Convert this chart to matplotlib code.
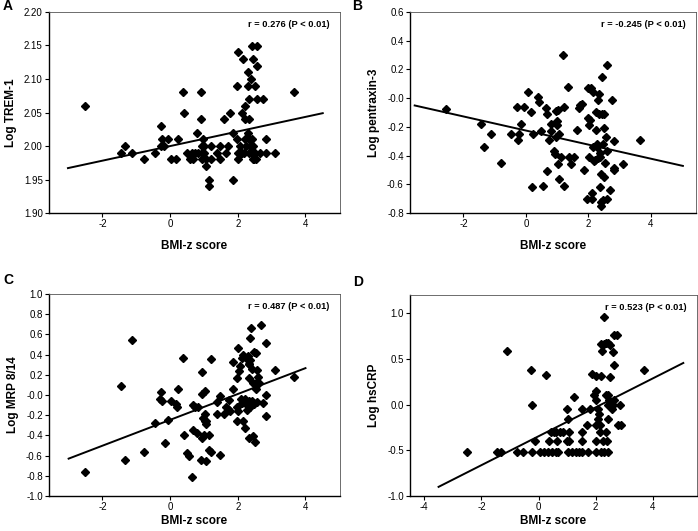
import numpy as np
import matplotlib
matplotlib.use("Agg")
import matplotlib.pyplot as plt

plt.rcParams['font.family'] = ['Liberation Sans Narrow', 'Liberation Sans', 'DejaVu Sans']

# Panel A: BMI-z vs Log TREM-1
a_x = [-2.53, -1.44, -1.32, -1.13, -0.78, -0.46, -0.26, -0.28, -0.17, -0.23, -0.07,
       0.04, 0.18, 0.23, 0.37, 0.40, 0.50, 0.59, 0.69, 0.64, 0.74, 0.82, 0.78, 0.91,
       0.90, 0.97, 0.95, 1.00, 0.94, 1.00, 0.93, 1.06, 1.05, 1.14, 1.16, 1.20, 1.22,
       1.39, 1.46, 1.48, 1.58, 1.66, 1.72, 1.77, 1.85, 1.87, 1.99, 2.01, 1.99, 2.00,
       2.00, 2.05, 2.12, 2.13, 2.16, 2.20, 2.22, 2.20, 2.25, 2.29, 2.30, 2.32, 2.30,
       2.34, 2.34, 2.41, 2.35, 2.45, 2.34, 2.43, 2.38, 2.41, 2.44, 2.46, 2.53, 2.52,
       2.50, 2.58, 2.58, 2.57, 2.73, 2.66, 2.83, 2.83, 3.10, 3.65, 2.10, 2.18, 2.48]
a_y = [2.06, 1.99, 2.00, 1.99, 1.98, 1.99, 2.03, 2.00, 2.00, 2.01, 2.01,
       1.98, 1.98, 2.01, 2.08, 2.05, 1.99, 1.98, 1.98, 1.99, 1.99, 1.99, 2.02, 2.08,
       2.04, 2.01, 2.00, 2.00, 1.99, 1.99, 1.98, 1.98, 1.97, 1.95, 1.94, 1.98, 2.00,
       1.99, 2.00, 1.98, 2.04, 1.99, 2.00, 2.05, 2.02, 1.95, 2.09, 2.14, 2.01, 1.99,
       1.98, 2.00, 1.99, 2.05, 2.13, 2.01, 2.06, 2.04, 2.00, 2.11, 2.09, 2.04, 2.02,
       2.07, 2.01, 2.01, 2.00, 2.00, 1.99, 1.99, 2.10, 2.15, 2.13, 1.98, 1.98, 2.09,
       1.99, 2.15, 2.12, 2.07, 2.07, 1.99, 2.01, 1.99, 1.99, 2.08, 1.99, 1.99, 1.98]
a_line_x = [-3.02, 4.51]
a_line_y = [1.967, 2.049]

# Panel B: BMI-z vs Log pentraxin-3
b_x = [-2.56, -1.45, -1.33, -1.13, -0.78, -0.47, -0.29, -0.24, -0.22, -0.14, -0.07,
       0.06, 0.17, 0.20, 0.22, 0.39, 0.43, 0.49, 0.56, 0.63, 0.67, 0.67, 0.73, 0.79,
       0.79, 0.90, 0.93, 0.96, 0.97, 1.01, 1.01, 1.04, 1.04, 1.07, 1.07, 1.14, 1.18,
       1.22, 1.22, 1.36, 1.39, 1.45, 1.55, 1.65, 1.71, 1.79, 1.85, 1.95, 1.99, 1.99,
       2.02, 2.01, 2.05, 2.10, 2.12, 2.14, 2.16, 2.17, 2.13, 2.25, 2.25, 2.27, 2.28,
       2.30, 2.32, 2.33, 2.35, 2.37, 2.37, 2.38, 2.40, 2.40, 2.42, 2.44, 2.44, 2.46,
       2.46, 2.49, 2.51, 2.51, 2.55, 2.57, 2.59, 2.60, 2.61, 2.70, 2.75, 2.81, 2.83,
       2.83, 3.10, 3.66, 2.20, 1.75]
b_y = [-0.074, -0.18, -0.34, -0.25, -0.45, -0.25, -0.06, -0.29, -0.25, -0.18, -0.06,
       0.04, -0.10, -0.62, -0.25, 0.01, -0.03, -0.23, -0.61, -0.07, -0.11, -0.51, -0.29, -0.18,
       -0.23, -0.37, -0.39, -0.27, -0.09, -0.16, -0.19, -0.08, -0.46, -0.25, -0.56, -0.41, 0.30,
       -0.06, -0.61, 0.08, -0.41, -0.46, -0.41, -0.22, -0.07, -0.04, -0.50, -0.70, 0.07, -0.14,
       -0.19, -0.41, -0.15, 0.07, -0.66, -0.34, 0.04, -0.44, -0.70, -0.22, -0.10, -0.32, -0.34,
       -0.01, -0.42, 0.03, -0.11, -0.38, -0.41, -0.62, -0.72, -0.75, -0.53, 0.15, -0.11, -0.32,
       -0.71, -0.55, -0.21, -0.11, -0.45, -0.27, -0.70, 0.23, -0.37, -0.64, -0.01, -0.30, -0.49,
       -0.50, -0.46, -0.29, -0.43, -0.05]
b_line_x = [-3.56, 5.03]
b_line_y = [-0.051, -0.472]

# Panel C: BMI-z vs Log MRP 8/14
c_x = [-2.53, -1.44, -1.32, -1.13, -0.78, -0.46, -0.26, -0.29, -0.23, -0.15, -0.07,
       0.04, 0.17, 0.20, 0.23, 0.37, 0.40, 0.49, 0.57, 0.64, 0.67, 0.67, 0.73, 0.78,
       0.82, 0.91, 0.95, 0.94, 1.02, 0.94, 0.99, 0.98, 1.02, 1.05, 1.02, 1.05, 1.07,
       1.15, 1.15, 1.21, 1.22, 1.39, 1.48, 1.46, 1.39, 1.58, 1.66, 1.72, 1.77, 1.73,
       1.85, 1.87, 1.99, 2.00, 1.99, 2.01, 1.99, 2.03, 2.06, 2.08, 2.12, 2.11, 2.16,
       2.16, 2.20, 2.22, 2.25, 2.27, 2.29, 2.32, 2.30, 2.37, 2.34, 2.34, 2.32, 2.36,
       2.37, 2.37, 2.34, 2.40, 2.41, 2.43, 2.47, 2.45, 2.45, 2.53, 2.48, 2.54, 2.52,
       2.55, 2.58, 2.58, 2.61, 2.62, 2.69, 2.74, 2.83, 2.83, 2.83, 3.10, 3.65]
c_y = [-0.76, 0.09, -0.64, 0.54, -0.56, -0.28, 0.03, -0.04, -0.06, -0.48, -0.25,
       -0.06, -0.09, -0.12, 0.06, 0.37, -0.40, -0.57, -0.60, -0.81, -0.10, -0.35, -0.12, -0.38,
       -0.12, -0.64, 0.23, 0.01, 0.04, -0.43, -0.40, -0.23, -0.26, -0.26, -0.19, -0.65, -0.29,
       -0.40, -0.54, -0.56, 0.36, -0.19, -0.59, -0.01, -0.07, -0.19, -0.12, -0.14, -0.16, -0.05,
       0.33, 0.06, -0.12, -0.16, -0.26, 0.47, 0.17, 0.24, 0.29, -0.04, -0.08, 0.37, 0.40,
       -0.26, -0.33, -0.04, -0.09, -0.15, 0.39, 0.31, 0.35, 0.35, 0.31, 0.17, -0.06, -0.09,
       -0.12, 0.56, -0.43, 0.66, 0.26, -0.06, -0.09, -0.41, 0.12, 0.12, 0.43, 0.42, -0.47,
       0.06, -0.07, 0.25, 0.18, 0.12, 0.69, -0.08, 0.51, 0.00, -0.21, 0.25, 0.18]
c_line_x = [-3.0, 4.0]
c_line_y = [-0.63, 0.266]

# Panel D: BMI-z vs Log hsCRP
d_x = [-2.52, -1.45, -1.31, -1.10, -0.75, -0.56, -0.26, -0.22, -0.23, -0.12,
       0.26, 0.05, 0.19, 0.33, 0.47, 0.61, 0.68, 0.37, 0.65,
       0.43, 0.54, 0.61, 0.75, 0.86, 1.07,
       1.00, 1.05, 1.00, 1.07,
       1.02, 1.17, 1.31, 1.43, 1.54, 1.73,
       1.26, 1.51, 1.53, 1.54, 1.69, 1.82, 1.87, 1.93, 2.00, 2.01, 2.03, 2.03, 2.03, 2.03,
       2.10, 2.13, 2.10, 2.15, 2.15, 2.18, 2.20, 2.24, 2.30, 2.30, 2.36, 2.45,
       2.38, 2.39, 2.42, 2.38, 2.45, 2.42, 2.50, 2.45, 2.46, 2.50, 2.50, 2.57, 2.62,
       2.62, 2.65, 2.66, 2.66, 2.74, 2.78, 2.88, 2.85, 3.70, 2.20, 2.30, 2.25]
d_y = [-0.52, -0.52, -0.52, 0.59, -0.52, -0.52, 0.38, 0.00, -0.52, -0.40,
       0.32, -0.52, -0.52, -0.52, -0.52, -0.52, -0.52, -0.40, -0.40,
       -0.30, -0.30, -0.30, -0.30, -0.30, -0.30,
       -0.05, -0.16, -0.40, -0.40,
       -0.52, -0.52, -0.52, -0.52, -0.52, -0.52,
       0.08, -0.05, -0.30, -0.40, -0.22, -0.05, 0.34, 0.11, 0.15, 0.31, 0.05, -0.22, -0.40, -0.52,
       -0.05, -0.10, -0.16, -0.22, -0.30, 0.31, 0.66, 0.59, 0.96, 0.66, 0.68, 0.68,
       -0.30, -0.40, -0.52, 0.11, 0.11, 0.00, 0.00, -0.16, 0.05, 0.65, 0.30, -0.05, 0.58,
       0.00, 0.05, 0.43, 0.76, 0.76, -0.22, -0.22, 0.00, 0.38, -0.52, -0.52, -0.40]
d_line_x = [-3.50, 5.07]
d_line_y = [-0.90, 0.456]

W, H = 698.0, 531.0

# letter, data, ylabel, r text, limits, ticks, format, axes box (px: left, top, right, bottom),
# letter pos (px), xlabel pad
panels = [
    ("A", a_x, a_y, a_line_x, a_line_y, "Log TREM-1", "r = 0.276 (P < 0.01)",
     (-3.58, 5.02), (1.90, 2.20), [-2, 0, 2, 4], np.arange(1.90, 2.201, 0.05), "%.2f",
     (49, 12, 340, 213), (3, 6), 8),
    ("B", b_x, b_y, b_line_x, b_line_y, "Log pentraxin-3", "r = -0.245 (P < 0.01)",
     (-3.71, 5.45), (-0.8, 0.6), [-2, 0, 2, 4], np.arange(-0.8, 0.61, 0.2), "%.1f",
     (410, 12, 696, 213), (352, 6), 8),
    ("C", c_x, c_y, c_line_x, c_line_y, "Log MRP 8/14", "r = 0.487 (P < 0.01)",
     (-3.58, 5.02), (-1.0, 1.0), [-2, 0, 2, 4], np.arange(-1.0, 1.01, 0.2), "%.1f",
     (49, 294, 340, 496), (3, 280), 2),
    ("D", d_x, d_y, d_line_x, d_line_y, "Log hsCRP", "r = 0.523 (P < 0.01)",
     (-4.50, 5.55), (-1.0, 1.2), [-4, -2, 0, 2, 4], [-1.0, -0.5, 0.0, 0.5, 1.0], "%.1f",
     (410, 295, 697, 496), (353, 282), 2),
]

fig = plt.figure(figsize=(6.98, 5.31), dpi=100)

for (letter, xs, ys, lx, ly, ylab, rtxt, xlim, ylim, xt, yt, fmt,
     box, lpos, xpad) in panels:
    l, t, r, b = box
    ax = fig.add_axes([l / W, 1 - b / H, (r - l) / W, (b - t) / H])
    ax.plot(xs, ys, linestyle='none', marker='D', markersize=4.2, color='black')
    ax.plot(lx, ly, color='black', linewidth=1.4)
    ax.set_xlim(xlim)
    ax.set_ylim(ylim)
    ax.set_xticks(xt)
    ax.set_xticklabels([str(v) for v in xt])
    ax.set_yticks(yt)
    ax.set_yticklabels([fmt % v for v in yt])
    ax.tick_params(direction='out', length=3, width=0.8, labelsize=7, pad=1.5)
    for s in ['left', 'bottom']:
        ax.spines[s].set_color('black')
        ax.spines[s].set_linewidth(1.0)
    for s in ['top', 'right']:
        ax.spines[s].set_color('#555555')
        ax.spines[s].set_linewidth(0.6)
    ax.set_xlabel("BMI-z score", fontsize=8.5, fontweight='bold', labelpad=xpad)
    ax.set_ylabel(ylab, fontsize=8.5, fontweight='bold', labelpad=5)
    ax.text(0.965, 0.94, rtxt, transform=ax.transAxes, ha='right', va='center',
            fontsize=6.7, fontweight='bold')
    fig.text(lpos[0] / W, 1 - lpos[1] / H, letter, fontsize=10, fontweight='bold',
             ha='left', va='center')

fig.savefig("out.png", dpi=100)
